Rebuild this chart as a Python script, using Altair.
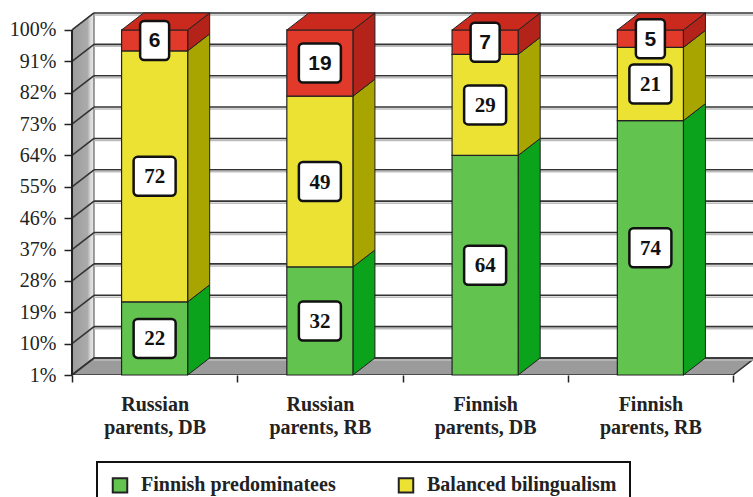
import json
import altair as alt
import pandas as pd

# Stacked shares (%) per parent group, bottom to top
groups = ["Russian parents, DB", "Russian parents, RB", "Finnish parents, DB", "Finnish parents, RB"]
series = ["Finnish predominatees", "Balanced bilingualism", "Russian predominatees"]
finnish = [22, 32, 64, 74]
balanced = [72, 49, 29, 21]
russian = [6, 19, 7, 5]

front_colors = ["#62c44f", "#ebe233", "#e1392a"]
side_colors = ["#0ba21c", "#a8a400", "#b3231a"]
top_color = "#c92a1d"
tick_values = [1, 10, 19, 28, 37, 46, 55, 64, 73, 82, 91, 100]

# plot geometry (pixels) and the 3-D depth offset expressed in data units
W, H = 681, 375
X_MAX = 4.121
Y_MIN, Y_MAX = 1, 108.6
PX_X = W / X_MAX
PX_Y = H / (Y_MAX - Y_MIN)
DX = 22 / PX_X
DY = 17 / PX_Y
HALF = 0.2
N = len(groups)

xs = alt.Scale(domain=[0, X_MAX], nice=False, zero=False)
ys = alt.Scale(domain=[Y_MIN, Y_MAX], nice=False, zero=False)

label_lines = [g.split(" ", 1) for g in groups]
x_label_expr = f"datum.value % 1 == 0 ? '' : {json.dumps(label_lines)}[floor(datum.value)]"

# one shared axis definition per channel, used by every layer
x_axis = alt.Axis(values=[k / 2 for k in range(2 * N + 1)], labelExpr=x_label_expr,
                  title=None, domain=False, grid=False, tickSize=7, tickWidth=1.5,
                  tickColor="#222",
                  tickOpacity={"condition": {"test": "datum.value % 1 != 0", "value": 0},
                               "value": 1},
                  labelFont="Liberation Serif", labelFontWeight="bold", labelFontSize=20,
                  labelColor="#222", labelLineHeight=23, labelPadding=12,
                  labelOverlap=False, labelFlush=False)
y_axis = alt.Axis(values=tick_values, labelExpr="datum.value + '%'", title=None,
                  domain=False, grid=False, tickSize=8, tickWidth=1.5, tickColor="#222",
                  labelFont="Liberation Serif", labelFontSize=20, labelColor="#222",
                  labelPadding=8, labelOverlap=False, labelFlush=False)


def X(field):
    return alt.X(field, scale=xs, axis=x_axis)


def Y(field):
    return alt.Y(field, scale=ys, axis=y_axis, stack=None)


# ---- bar segments ----
seg, side, top = [], [], []
for i, g in enumerate(groups):
    base = 0
    c = i + 0.5
    for k, (s, vals) in enumerate(zip(series, [finnish, balanced, russian])):
        v = vals[i]
        lo, hi = max(base, Y_MIN), base + v
        seg.append(dict(group=g, series=s, value=v, label=str(v), xl=c - HALF, xr=c + HALF,
                        xc=c, lo=lo, hi=hi, mid=(lo + hi) / 2, k=k))
        for d in (0, 1):
            side.append(dict(key=f"{i}-{k}", x=c + HALF + d * DX, y=lo + d * DY,
                             y2=hi + d * DY, col=side_colors[k]))
        base = hi
    for d in (0, 1):
        top.append(dict(key=str(i), y=base + d * DY, x=c - HALF + d * DX, x2=c + HALF + d * DX))
seg = pd.DataFrame(seg)
side = pd.DataFrame(side)
top = pd.DataFrame(top)

# ---- walls, floor and grid ----
wall = pd.DataFrame([dict(x=0, y=Y_MIN, y2=100), dict(x=DX, y=Y_MIN + DY, y2=100 + DY)])
floor = pd.DataFrame([dict(y=Y_MIN, x=0, x2=N), dict(y=Y_MIN + DY, x=DX, x2=N + DX)])
grid = pd.DataFrame([dict(v=v, y=v + DY, x=DX, x2=N + DX) for v in tick_values])
slant = pd.DataFrame([dict(v=v, x=d * DX, y=v + d * DY) for v in tick_values for d in (0, 1)])
yaxis_line = pd.DataFrame([dict(x=0, y=Y_MIN, y2=100)])

left_wall = alt.Chart(wall).mark_area(
    orient="vertical", stroke="#444", strokeWidth=1,
    color=alt.Gradient(gradient="linear", x1=0, x2=1, y1=0, y2=0,
                       stops=[alt.GradientStop(color="#9c9c9c", offset=0),
                              alt.GradientStop(color="#ababab", offset=0.7),
                              alt.GradientStop(color="#dadada", offset=0.85),
                              alt.GradientStop(color="#e6e6e6", offset=1)])
).encode(x=X("x:Q"), y=Y("y:Q"), y2="y2:Q")

floor_layer = alt.Chart(floor).mark_area(
    orient="horizontal", color="#9b9b9b", stroke="#333", strokeWidth=1.5, clip=True
).encode(y=Y("y:Q"), x=X("x:Q"), x2="x2:Q")

grid_shadow = alt.Chart(grid).mark_rule(color="#bdbdbd", strokeWidth=1.5, yOffset=2, clip=True).encode(
    x=X("x:Q"), x2="x2:Q", y=Y("y:Q"))
grid_lines = alt.Chart(grid).mark_rule(color="#333", strokeWidth=1.6, clip=True).encode(
    x=X("x:Q"), x2="x2:Q", y=Y("y:Q"))
wall_lines = alt.Chart(slant).mark_line(color="#333", strokeWidth=1.6).encode(
    x=X("x:Q"), y=Y("y:Q"), detail="v:N")
axis_rule = alt.Chart(yaxis_line).mark_rule(color="#222", strokeWidth=2).encode(
    x=X("x:Q"), y=Y("y:Q"), y2="y2:Q")

side_faces = alt.Chart(side).mark_area(orient="vertical", stroke="#222", strokeWidth=1).encode(
    x=X("x:Q"), y=Y("y:Q"), y2="y2:Q",
    detail="key:N", color=alt.Color("col:N", scale=None))

top_faces = alt.Chart(top).mark_area(orient="horizontal", color=top_color, stroke="#222",
                                     strokeWidth=1).encode(
    y=Y("y:Q"), x=X("x:Q"), x2="x2:Q", detail="key:N")

front_faces = alt.Chart(seg).mark_rect(stroke="#222", strokeWidth=1.2).encode(
    x=X("xl:Q"), x2="xr:Q", y=Y("lo:Q"), y2="hi:Q",
    color=alt.Color("series:N", scale=alt.Scale(domain=series, range=front_colors),
                    legend=alt.Legend(title=None, orient="none", legendX=25, legendY=462,
                                      values=series[:2],
                                      direction="horizontal", columns=2, columnPadding=58,
                                      padding=13, strokeColor="#111",
                                      symbolType="square", symbolSize=210,
                                      symbolStrokeColor="#111", symbolStrokeWidth=2,
                                      symbolOpacity=1, labelFont="Liberation Serif",
                                      labelFontWeight="bold", labelFontSize=20,
                                      labelColor="#222", labelOffset=11, labelLimit=0)),
)


def boxes(test, half_w):
    return alt.Chart(seg).transform_filter(test).mark_rect(
        fill="white", stroke="#111", strokeWidth=2.5, cornerRadius=4,
        xOffset=-half_w, x2Offset=half_w, yOffset=-19.5, y2Offset=19.5
    ).encode(x=X("xc:Q"), x2="xc:Q", y=Y("mid:Q"), y2="mid:Q")


def labels(test, font):
    return alt.Chart(seg).transform_filter(test).mark_text(
        font=font, fontWeight="bold", fontSize=21, color="#111", baseline="middle", dy=1
    ).encode(x=X("xc:Q"), y=Y("mid:Q"), text="label:N")


chart = alt.layer(
    left_wall, floor_layer, grid_shadow, grid_lines, wall_lines, axis_rule,
    side_faces, front_faces, top_faces,
    boxes(alt.datum.value >= 10, 21), boxes(alt.datum.value < 10, 14.5),
    labels(alt.datum.k < 2, "Liberation Serif"), labels(alt.datum.k == 2, "Liberation Sans"),
).properties(
    width=W, height=H,
    autosize=alt.AutoSizeParams(type="none"),
    padding={"left": 72, "top": 0, "right": 0, "bottom": 122},
    background="white",
).configure_view(stroke=None).configure_legend(strokeWidth=2)

chart.save("out.html", embed_options={"renderer": "svg", "actions": False})
